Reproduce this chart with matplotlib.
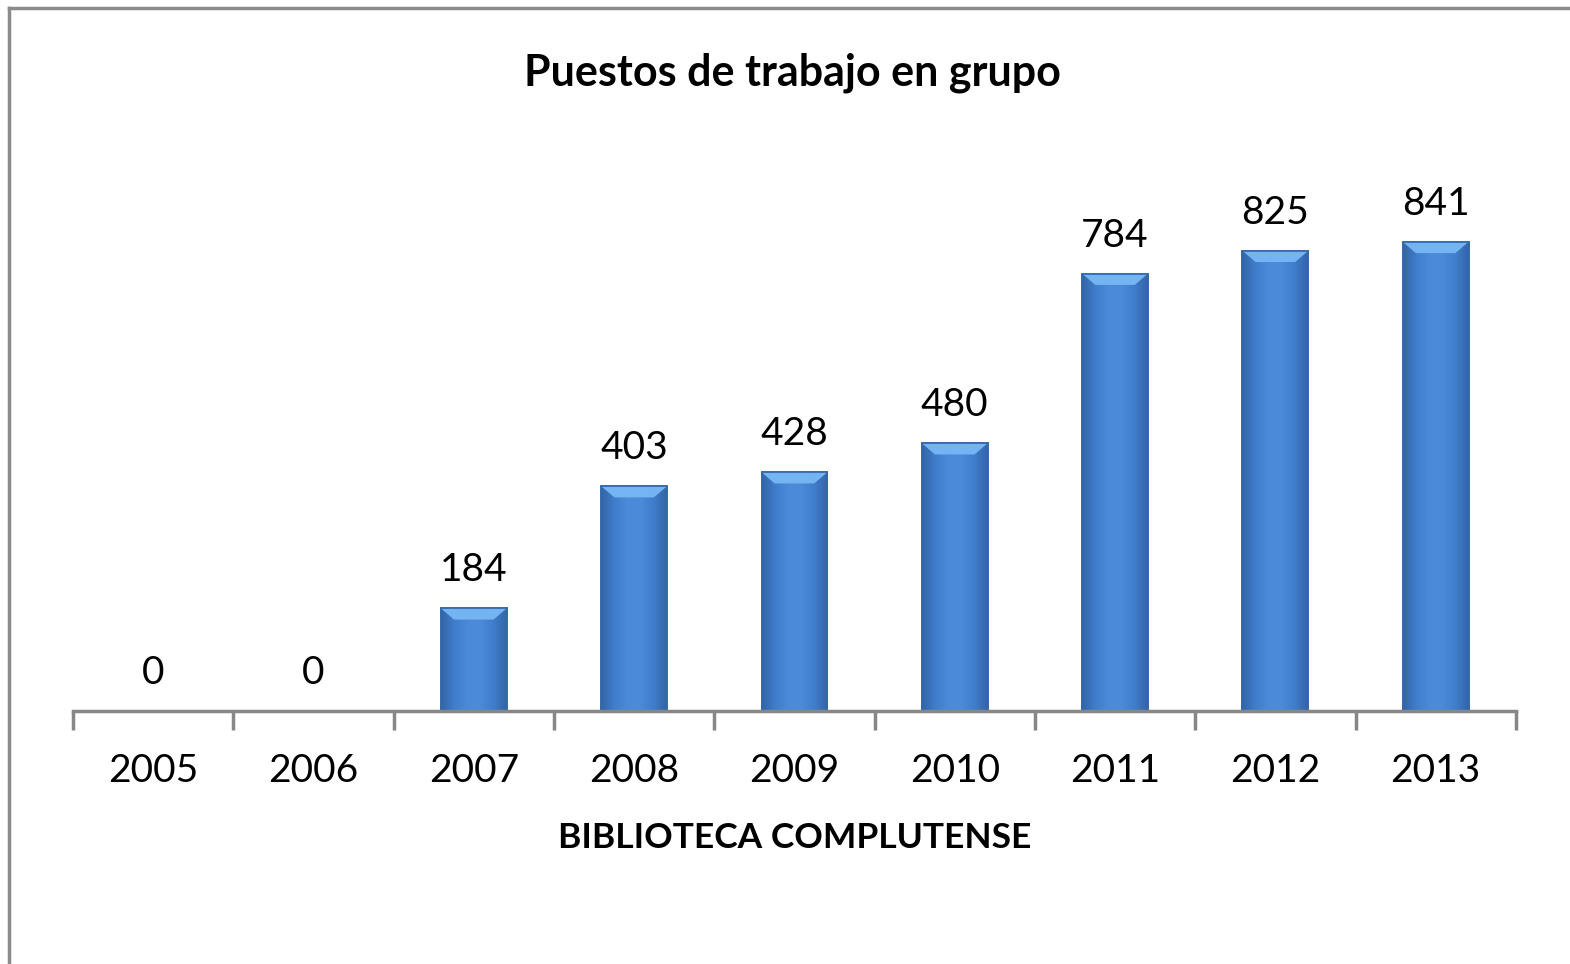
import numpy as np
import matplotlib.pyplot as plt
from matplotlib.patches import Polygon, Rectangle
from matplotlib.colors import LinearSegmentedColormap

years = ["2005", "2006", "2007", "2008", "2009", "2010", "2011", "2012", "2013"]
puestos = [0, 0, 184, 403, 428, 480, 784, 825, 841]

plt.rcParams['font.family'] = ['Lato', 'DejaVu Sans']

fig = plt.figure(figsize=(15.7, 9.64), dpi=100)
ax = fig.add_axes([0.0465, 0.2624, 0.919, 0.5786])

x = np.arange(len(years))
bars = ax.bar(x, puestos, width=0.41, color="#4384d4", edgecolor="#3468a8", linewidth=1.2, zorder=2)

# degradado horizontal + bisel superior en cada barra
cmap = LinearSegmentedColormap.from_list("barra", ["#3565a8", "#3f7ecc", "#4a8ad8", "#4b8bd9", "#3f7ecc", "#3565a8"])
grad = np.linspace(0, 1, 50)[None, :]
for b, v in zip(bars, puestos):
    h = b.get_height()
    x0, w = b.get_x(), b.get_width()
    if h > 0:
        im = ax.imshow(grad, extent=(x0, x0 + w, 0, h), aspect="auto", cmap=cmap,
                       interpolation="bicubic", zorder=2.1)
        im.set_clip_path(b)
        bev = 20
        ax.add_patch(Polygon([(x0, h), (x0 + w, h), (x0 + w * 0.8, h - bev), (x0 + w * 0.2, h - bev)],
                             closed=True, facecolor="#74b4f2", edgecolor="none", zorder=2.2))
        ax.add_patch(Rectangle((x0, 0), w, h, facecolor="none", edgecolor="#3468a8", lw=1.2, zorder=2.3))
    ax.text(x0 + w / 2, h + 36, str(v), ha="center", va="bottom", fontsize=28, zorder=3)

ax.set_xlim(-0.5, len(years) - 0.5)
ax.set_ylim(0, 1000)
ax.set_xticks(x)
ax.set_xticklabels(years, fontsize=28)
ax.set_xticks(np.arange(-0.5, len(years)), minor=True)
ax.tick_params(axis="x", which="major", length=0, pad=30)
ax.tick_params(axis="x", which="minor", length=14, width=2.5, color="#878787")
ax.set_yticks([])
for s in ["top", "right", "left"]:
    ax.spines[s].set_visible(False)
ax.spines["bottom"].set_color("#878787")
ax.spines["bottom"].set_linewidth(2.5)

ax.set_xlabel("BIBLIOTECA COMPLUTENSE", fontsize=25.5, fontweight="bold", labelpad=24)
fig.text(0.505, 0.925, "Puestos de trabajo en grupo", ha="center", va="center",
         fontsize=31, fontweight="bold")

# marco del gráfico
fig.add_artist(plt.Line2D([0.0058, 0.0058], [0, 0.992], color="#8c8c8c", lw=2.5))
fig.add_artist(plt.Line2D([0.0058, 1.0], [0.992, 0.992], color="#8c8c8c", lw=2.5))

fig.savefig("out.png", dpi=100)
